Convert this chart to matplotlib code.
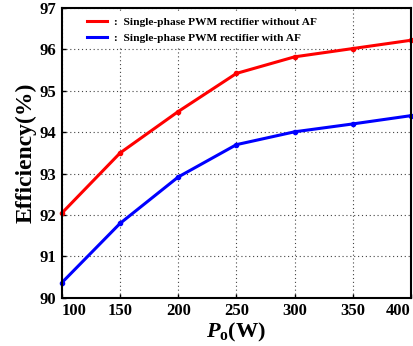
import matplotlib
matplotlib.use("Agg")
from matplotlib import pyplot as plt

power = [100, 150, 200, 250, 300, 350, 400]
eff_without_af = [92.05, 93.5, 94.5, 95.42, 95.82, 96.02, 96.22]
eff_with_af = [90.37, 91.8, 92.92, 93.7, 94.01, 94.2, 94.4]
x_ticks = [100, 150, 200, 250, 300, 350, 400]
y_ticks = [90, 91, 92, 93, 94, 95, 96, 97]

plt.rcParams['font.family'] = ['Liberation Serif', 'DejaVu Serif']
plt.rcParams['font.weight'] = 'bold'
plt.rcParams['mathtext.fontset'] = 'custom'
plt.rcParams['mathtext.it'] = 'Liberation Serif:italic:bold'
plt.rcParams['mathtext.rm'] = 'Liberation Serif:bold'

fig = plt.figure(figsize=(4.13, 3.46), dpi=100)
ax = fig.add_axes([0.150, 0.139, 0.845, 0.838])

# lines (legend entries have no marker)
ax.plot(power, eff_without_af, color='red', lw=2.2,
        label=':  Single-phase PWM rectifier without AF')
ax.plot(power, eff_with_af, color='blue', lw=2.2,
        label=':  Single-phase PWM rectifier with AF')
ax.plot(power, eff_without_af, 'o', color='red', ms=3, clip_on=False)
ax.plot(power, eff_with_af, 'o', color='blue', ms=3, clip_on=False)

ax.set_xlim(100, 400)
ax.set_ylim(90, 97)
ax.set_xticks(x_ticks)
ax.set_yticks(y_ticks)
ax.set_xticklabels([str(t) for t in x_ticks], fontsize=12, fontweight='bold')
ax.set_yticklabels([str(t) for t in y_ticks], fontsize=12, fontweight='bold')
labels = ax.get_xticklabels()
labels[0].set_horizontalalignment('left')
labels[-1].set_horizontalalignment('right')
ax.tick_params(direction='in', length=3, width=1, pad=4)
ax.grid(True, color='#444444', linestyle=(0, (1, 2.5)), linewidth=0.8)
for s in ax.spines.values():
    s.set_linewidth(1.5)

ax.set_xlabel(r'$P_{\mathrm{o}}$(W)', fontsize=16, fontweight='bold', labelpad=1)
ax.set_ylabel('Efficiency(%)', fontsize=17, fontweight='bold', labelpad=2)

leg = ax.legend(loc='upper left', frameon=True, fancybox=False, fontsize=8.2,
                handlelength=1.75, borderaxespad=0.0, borderpad=0.4,
                bbox_to_anchor=(0.06, 0.983), labelspacing=0.5, framealpha=1,
                handletextpad=0.6)
leg.get_frame().set_edgecolor('none')
leg.get_frame().set_facecolor('white')
leg.get_frame().set_linewidth(0)
leg.set_zorder(2.4)

plt.savefig('out.png', dpi=100)
